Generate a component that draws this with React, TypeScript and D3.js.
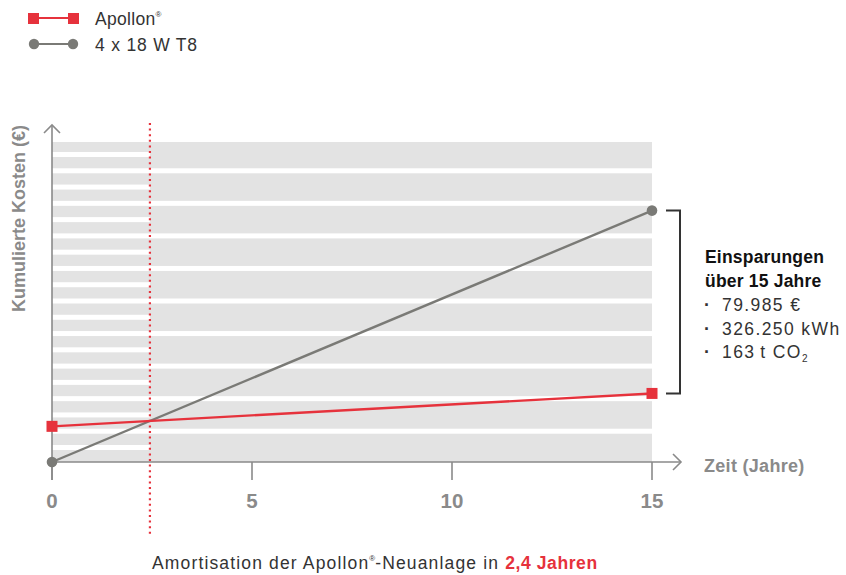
import React from "react";
import * as d3 from "d3";

// ---- data ----
const years = [0, 15];
const apollonCosts = [15600, 30000]; // cumulative cost (€)
const t8Costs = [0, 109985]; // cumulative cost (€)
const xTicks = [0, 5, 10, 15];
const seriesNames = ["Apollon", "4 x 18 W T8"];
const savingsLines = ["79.985 €", "326.250 kWh", "163\u2009t CO"];
const paybackLabel = "2,4 Jahren";

const W = 846;
const H = 575;
const RED = "#e6323c";
const GREY = "#7a7a76";
const AXIS = "#8a8a8a";
const FONT = "'Liberation Sans', Arial, Helvetica, sans-serif";

export default function App() {
  const x = d3.scaleLinear().domain([0, 15]).range([52, 652]);
  const y = d3.scaleLinear().domain([0, 140000]).range([462, 142]);

  const apollon = years.map((t, i) => ({ t, v: apollonCosts[i] }));
  const t8 = years.map((t, i) => ({ t, v: t8Costs[i] }));
  const line = d3
    .line<{ t: number; v: number }>()
    .x((d) => x(d.t))
    .y((d) => y(d.v));

  // crossing point (payback)
  const sA = (apollonCosts[1] - apollonCosts[0]) / (years[1] - years[0]);
  const sT = (t8Costs[1] - t8Costs[0]) / (years[1] - years[0]);
  const tCross = (apollonCosts[0] - t8Costs[0]) / (sT - sA);
  const xCross = x(tCross);

  // background stripe gaps
  const [yBottom, yTop] = y.range();
  const gapCount = 19;
  const firstGap = yTop + 12.5;
  const lastGap = yBottom - 14.5;
  const period = (lastGap - firstGap) / (gapCount - 1);
  const gaps = d3.range(gapCount).map((k) => ({
    cy: firstGap + k * period,
    full: k % 2 === 1,
  }));

  const x0 = x(0);
  const x15 = x(15);

  return (
    <svg
      width={W}
      height={H}
      style={{ position: "absolute", left: 0, top: 0, fontFamily: FONT }}
    >
      {/* legend */}
      <g>
        <line x1={34} x2={74} y1={18} y2={18} stroke={RED} strokeWidth={2.2} />
        <rect x={28} y={13} width={11} height={11} fill={RED} />
        <rect x={68} y={13} width={11} height={11} fill={RED} />
        <text x={95} y={25} fontSize={17.5} fill="#333" letterSpacing={0.3}>
          {seriesNames[0]}
          <tspan fontSize={8} dy={-8}>®</tspan>
        </text>
        <line x1={34} x2={73} y1={44} y2={44} stroke={GREY} strokeWidth={2.2} />
        <circle cx={34} cy={44} r={5.2} fill={GREY} />
        <circle cx={73} cy={44} r={5.2} fill={GREY} />
        <text x={95} y={51} fontSize={17.5} fill="#333" letterSpacing={0.8}>
          {seriesNames[1]}
        </text>
      </g>

      {/* striped background */}
      <rect x={x0} y={yTop} width={x15 - x0} height={yBottom - yTop} fill="#e3e3e3" />
      {gaps.map((g, i) => (
        <rect
          key={i}
          x={x0}
          y={g.cy - 2.5}
          width={(g.full ? x15 : xCross) - x0}
          height={5}
          fill="#ffffff"
        />
      ))}

      {/* axes */}
      <line x1={x0} x2={x0} y1={125} y2={480} stroke={AXIS} strokeWidth={1.6} />
      <polyline
        points={`${x0 - 8},133 ${x0},125 ${x0 + 8},133`}
        fill="none"
        stroke={AXIS}
        strokeWidth={1.6}
      />
      <line x1={x0} x2={681} y1={yBottom} y2={yBottom} stroke={AXIS} strokeWidth={1.6} />
      <polyline
        points={`673,${yBottom - 8} 681,${yBottom} 673,${yBottom + 8}`}
        fill="none"
        stroke={AXIS}
        strokeWidth={1.6}
      />
      {xTicks.map((t) => (
        <g key={t}>
          <line x1={x(t)} x2={x(t)} y1={yBottom} y2={480} stroke={AXIS} strokeWidth={1.6} />
          <text
            x={x(t)}
            y={508}
            textAnchor="middle"
            fontSize={20.5}
            fontWeight="bold"
            fill={AXIS}
          >
            {t}
          </text>
        </g>
      ))}
      <text x={704} y={472} fontSize={18} fontWeight="bold" fill={AXIS} letterSpacing={0.3}>
        Zeit (Jahre)
      </text>
      <text
        transform={`translate(25,218.5) rotate(-90)`}
        textAnchor="middle"
        fontSize={18}
        fontWeight="bold"
        fill={AXIS}
      >
        Kumulierte Kosten (€)
      </text>

      {/* payback dotted line */}
      <line
        x1={xCross}
        x2={xCross}
        y1={123}
        y2={534}
        stroke={RED}
        strokeWidth={2.2}
        strokeDasharray="2 3.6"
      />

      {/* series */}
      <path d={line(t8) || ""} fill="none" stroke={GREY} strokeWidth={2.4} />
      <path d={line(apollon) || ""} fill="none" stroke={RED} strokeWidth={2.4} />
      {t8.map((d, i) => (
        <circle key={i} cx={x(d.t)} cy={y(d.v)} r={5.3} fill={GREY} />
      ))}
      {apollon.map((d, i) => (
        <rect
          key={i}
          x={x(d.t) - 5.5}
          y={y(d.v) - 5.5}
          width={11}
          height={11}
          fill={RED}
        />
      ))}

      {/* savings bracket */}
      <polyline
        points={`666,${y(t8Costs[1])} 680,${y(t8Costs[1])} 680,${y(apollonCosts[1])} 666,${y(
          apollonCosts[1]
        )}`}
        fill="none"
        stroke="#333"
        strokeWidth={2}
      />
      <text x={705} y={263} fontSize={17.5} fontWeight="bold" fill="#111" letterSpacing={0.2}>
        Einsparungen
      </text>
      <text x={705} y={287} fontSize={17.5} fontWeight="bold" fill="#111" letterSpacing={0.2}>
        über 15 Jahre
      </text>
      {savingsLines.map((s, i) => (
        <g key={i}>
          <text x={704} y={311 + i * 23.5} fontSize={18} fontWeight="bold" fill="#333">
            ·
          </text>
          <text x={722} y={311 + i * 23.5} fontSize={17.5} fill="#333" letterSpacing={1.4}>
            {s}
            {i === 2 && (
              <tspan fontSize={10} dy={4} letterSpacing={0}>
                2
              </tspan>
            )}
          </text>
        </g>
      ))}

      {/* bottom caption */}
      <text x={152} y={569} fontSize={17.5} fill="#333" letterSpacing={1.15}>
        Amortisation der Apollon
        <tspan fontSize={8} dy={-8} letterSpacing={0}>®</tspan>
        <tspan dy={8}>-Neuanlage in </tspan>
        <tspan fontWeight="bold" fill={RED} letterSpacing={0.6}>
          {paybackLabel}
        </tspan>
      </text>
    </svg>
  );
}
